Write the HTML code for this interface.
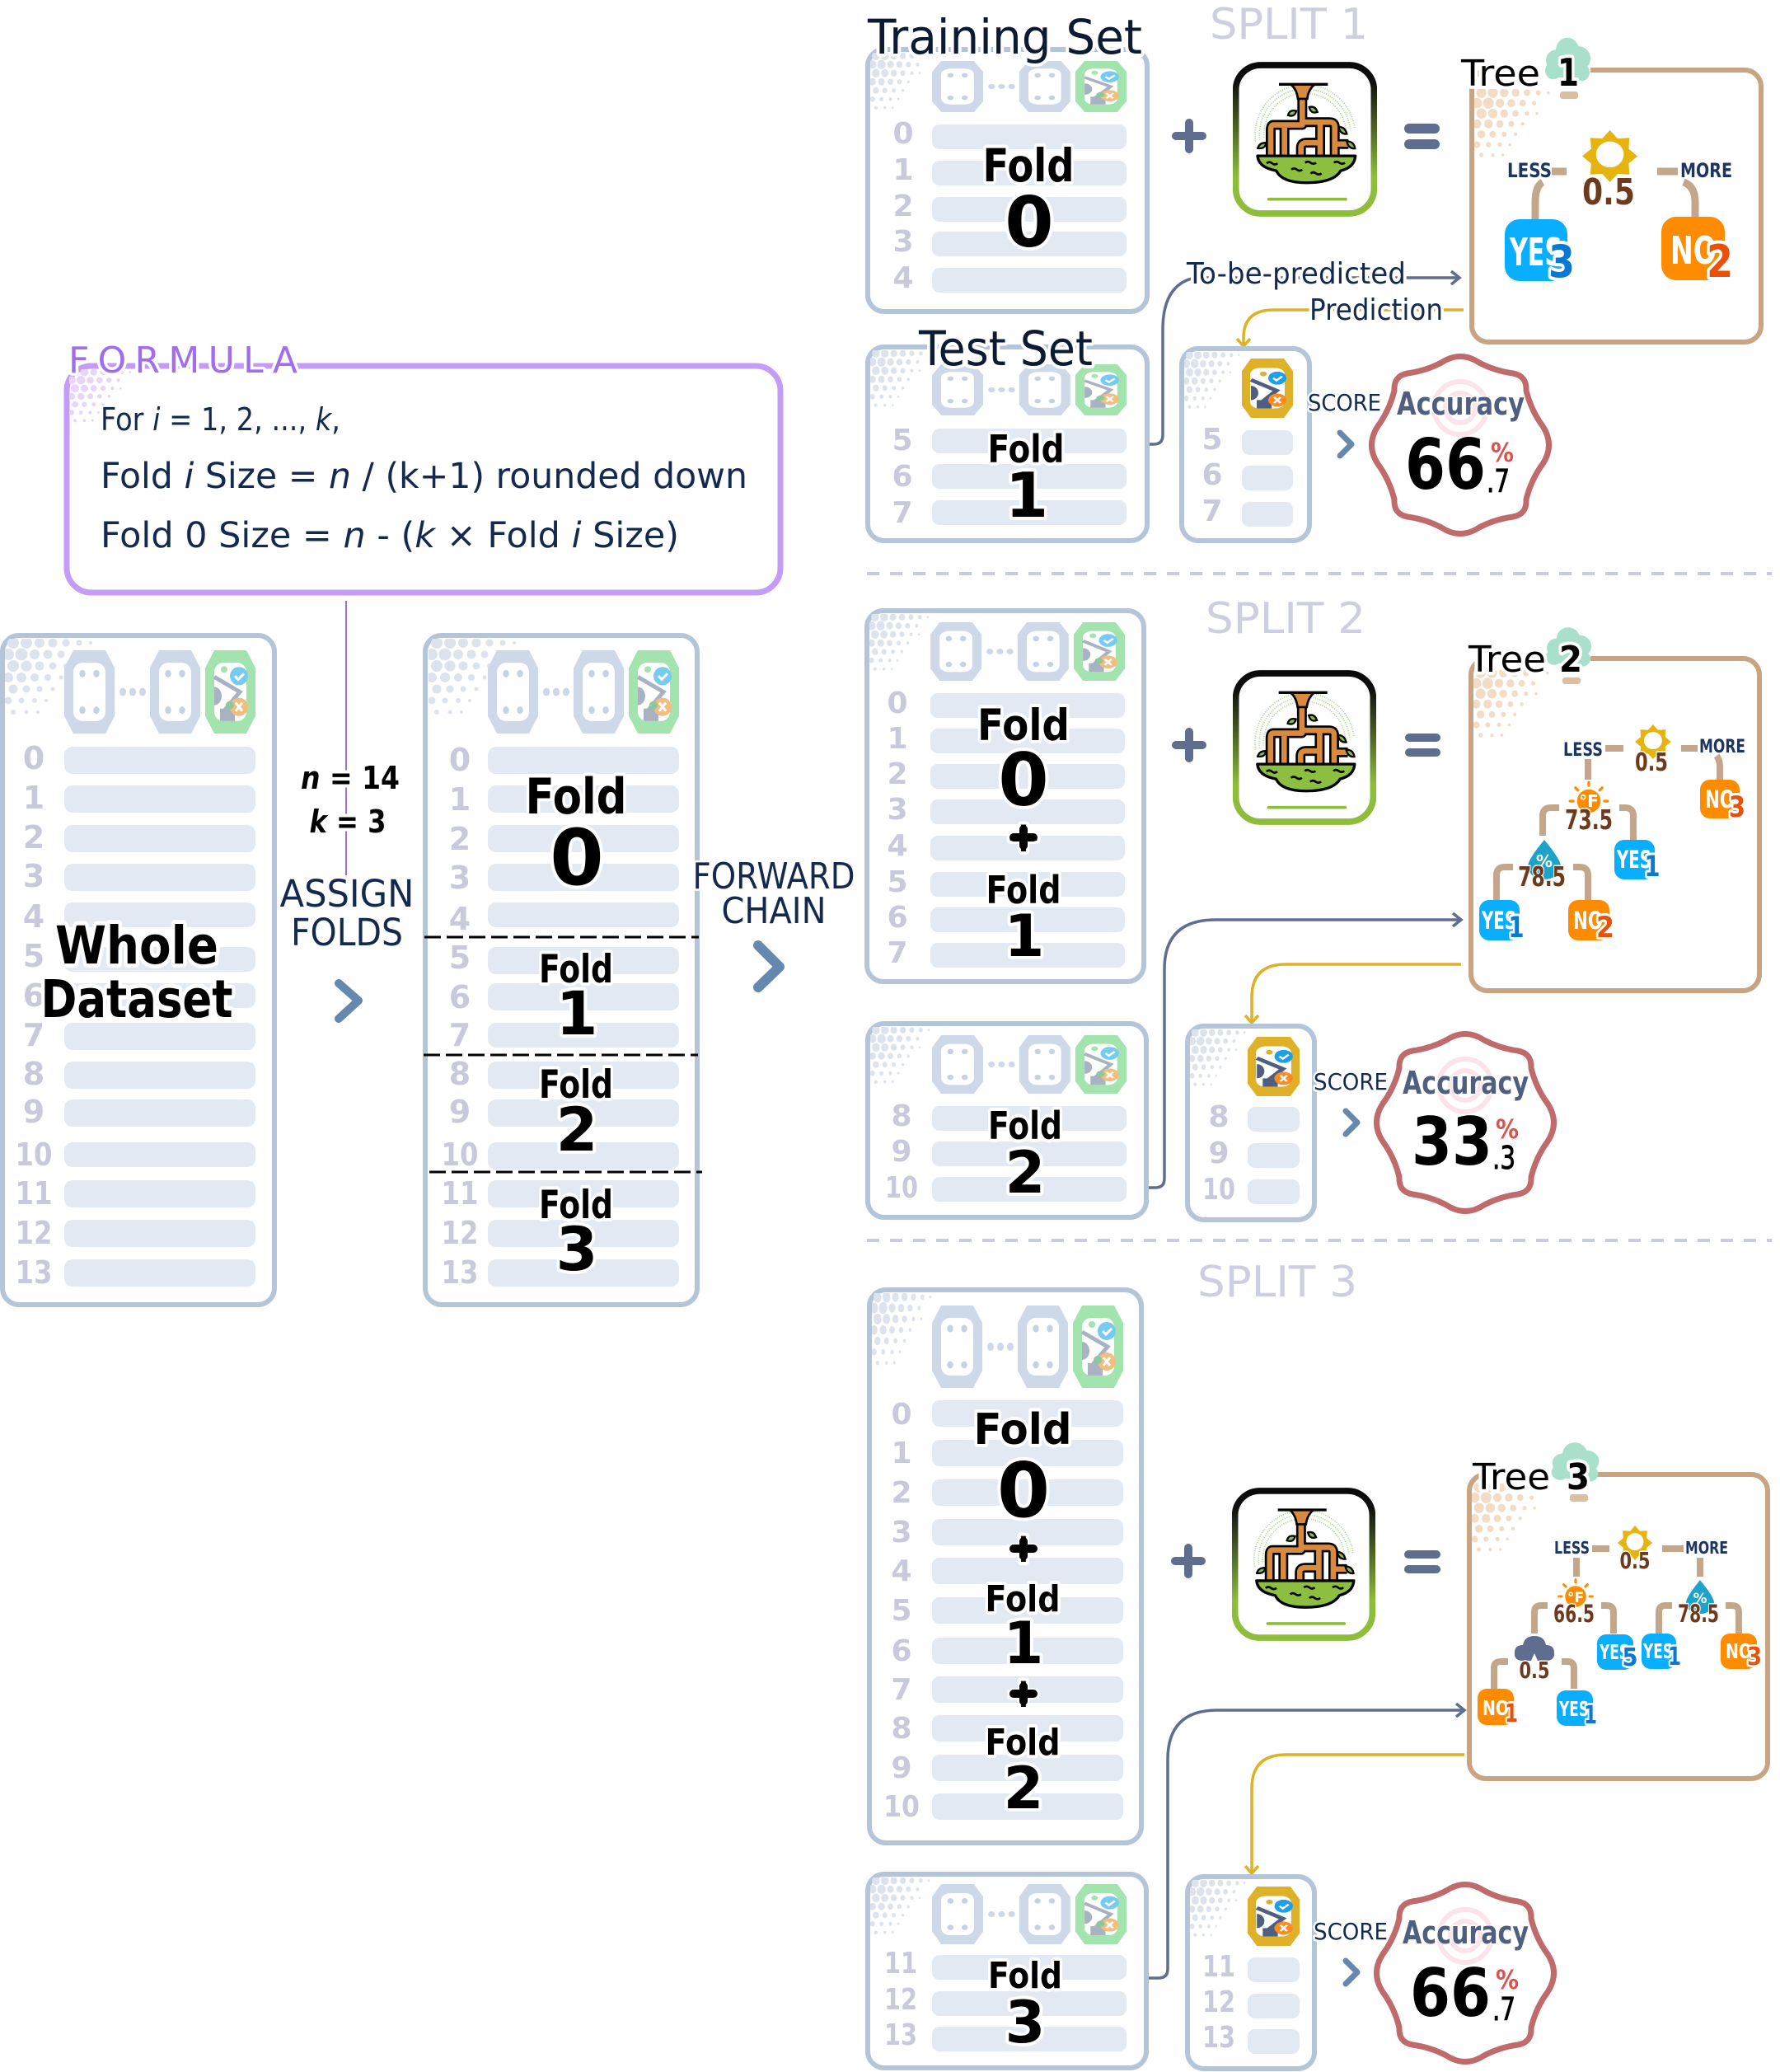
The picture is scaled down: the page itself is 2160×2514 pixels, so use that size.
<!DOCTYPE html>
<html><head><meta charset="utf-8"><style>
html,body{margin:0;padding:0;background:#fff}
svg{display:block}
text{font-family:"DejaVu Sans","Liberation Sans",sans-serif}
.p{fill:#fff;stroke:#b5c5d9;stroke-width:6}
.b{fill:#e3e9f2}
.n{font-size:36px;font-weight:700;fill:#c8cadc;text-anchor:middle}
.a .n{font-size:38px}
.h{paint-order:stroke;stroke:#fff;stroke-width:8px;stroke-linejoin:round}
.f{font-weight:700;fill:#000;text-anchor:middle}
.t{fill:#14294f}
.c{fill:none;stroke:#c4a78a;stroke-linecap:butt;stroke-linejoin:round}
.v{font-weight:700;fill:#6d3a1e;text-anchor:middle}
.l{font-weight:700;fill:#1c3561}
.w{font-weight:700;fill:#fff}
.sp{fill:#cdcfe0;font-size:52px}
</style></head><body>
<svg xmlns="http://www.w3.org/2000/svg" width="2160" height="2514" viewBox="0 0 2160 2514">
<defs>
<linearGradient id="mg" x1="0" y1="0" x2="0" y2="1"><stop offset="0" stop-color="#0a0a0a"/><stop offset=".12" stop-color="#111"/><stop offset=".75" stop-color="#8ebd3c"/><stop offset="1" stop-color="#8ebd3c"/></linearGradient>
<symbol id="dots" viewBox="0 0 110 100" preserveAspectRatio="none">
<g fill="currentColor">
<circle cx="10" cy="5" r="7"/><circle cx="26" cy="5" r="7"/><circle cx="42" cy="5" r="6"/><circle cx="58" cy="5" r="5.5"/><circle cx="74" cy="5" r="4.5"/><circle cx="90" cy="5" r="3.5"/><circle cx="104" cy="5" r="2"/>
<circle cx="4" cy="19" r="7"/><circle cx="20" cy="19" r="7.5"/><circle cx="36" cy="19" r="6"/><circle cx="52" cy="19" r="5.5"/><circle cx="68" cy="19" r="4.5"/><circle cx="84" cy="19" r="3"/>
<circle cx="10" cy="33" r="7"/><circle cx="26" cy="33" r="6.5"/><circle cx="42" cy="33" r="5.5"/><circle cx="58" cy="33" r="4.5"/><circle cx="74" cy="33" r="3"/><circle cx="88" cy="33" r="2"/>
<circle cx="4" cy="47" r="6"/><circle cx="20" cy="47" r="6"/><circle cx="36" cy="47" r="5"/><circle cx="52" cy="47" r="4"/><circle cx="68" cy="47" r="2.5"/>
<circle cx="10" cy="61" r="5.5"/><circle cx="26" cy="61" r="4.5"/><circle cx="42" cy="61" r="3.5"/><circle cx="58" cy="61" r="2.5"/>
<circle cx="4" cy="75" r="4.5"/><circle cx="20" cy="75" r="3.5"/><circle cx="36" cy="75" r="3"/><circle cx="50" cy="75" r="2"/>
<circle cx="10" cy="89" r="3"/><circle cx="26" cy="89" r="2.5"/><circle cx="40" cy="89" r="2"/>
</g></symbol>
<g id="oc"><polygon points="11,0 50,0 61,21 61,79 50,100 11,100 0,79 0,21" fill="#cdd9e9"/><rect x="11" y="15" width="39" height="70" rx="11" fill="#fff"/><g fill="#c5d2e2"><ellipse cx="22" cy="28" rx="3.7" ry="4.5"/><ellipse cx="39" cy="28" rx="3.7" ry="4.5"/><ellipse cx="22" cy="72" rx="3.7" ry="4.5"/><ellipse cx="39" cy="72" rx="3.7" ry="4.5"/></g></g>
<symbol id="hdr" viewBox="0 0 232 100" preserveAspectRatio="none">
<use href="#oc"/>
<use href="#oc" x="104"/>
<g fill="#cdd9e9"><ellipse cx="71" cy="50" rx="4" ry="5"/><ellipse cx="83" cy="50" rx="4" ry="5"/><ellipse cx="95" cy="50" rx="4" ry="5"/></g>
<g transform="translate(171,0)"><polygon points="11,0 50,0 61,21 61,79 50,100 11,100 0,79 0,21" fill="#a3e4ae"/><rect x="11" y="15" width="39" height="70" rx="11" fill="#fff"/>
<polyline points="11,32 42,50 22,74" fill="none" stroke="#a8b2c2" stroke-width="5"/><path d="M11 44a9 11 0 0 1 0 22z" fill="#a8b2c2"/><rect x="18" y="70" width="18" height="15" fill="#a8b2c2"/><circle cx="41" cy="31" r="11" fill="#78cbf0"/><path d="M36 31l4 4 7-7" fill="none" stroke="#fff" stroke-width="3"/><circle cx="41" cy="68" r="11" fill="#f4bd80"/><path d="M37 63l8 10M45 63l-8 10" fill="none" stroke="#fff" stroke-width="3"/><circle cx="23" cy="23" r="4" fill="#a3e4ae"/><circle cx="30" cy="66" r="5" fill="#8fc79c"/></g>
</symbol>
<symbol id="pred" viewBox="0 0 62 100" preserveAspectRatio="none">
<polygon points="11,0 51,0 62,21 62,79 51,100 11,100 0,79 0,21" fill="#dfb128"/><rect x="10" y="16" width="42" height="68" rx="11" fill="#fff"/>
<polyline points="11,36 42,54 22,76" fill="none" stroke="#4f5f80" stroke-width="6"/><path d="M11 46a9 12 0 0 1 0 24z" fill="#4f5f80"/><rect x="18" y="70" width="18" height="14" fill="#4f5f80"/><circle cx="43" cy="33" r="11" fill="#1da0e8"/><path d="M38 33l4 4 7-7" fill="none" stroke="#fff" stroke-width="3"/><circle cx="43" cy="70" r="11" fill="#ff8a1f"/><path d="M39 65l8 10M47 65l-8 10" fill="none" stroke="#fff" stroke-width="3"/><circle cx="26" cy="26" r="4" fill="#dfb128"/>
</symbol>
<symbol id="model" viewBox="47 45 525 565" preserveAspectRatio="none">
<rect x="58" y="57" width="503" height="541" rx="90" fill="#fff" stroke="url(#mg)" stroke-width="23"/>
<path d="M178 546H458" stroke="#8ebd3c" stroke-width="11" stroke-linecap="round"/>
<g fill="none" stroke="#a8d57e" stroke-width="5" stroke-dasharray="3 5"><path d="M130 335A180 180 0 0 1 490 285"/><path d="M145 330A165 165 0 0 1 475 290"/><path d="M160 320A150 150 0 0 1 460 300"/></g>
<g fill="none" stroke="#000" stroke-width="36" stroke-linejoin="round"><path d="M300 140V275H195Q185 275 185 295V385"/><path d="M235 285V385"/><path d="M305 265H400Q418 265 418 282V385"/><path d="M365 265V385"/><path d="M295 385V358Q295 340 315 340H360"/><path d="M420 345H468"/></g>
<g fill="none" stroke="#d88a3e" stroke-width="20" stroke-linejoin="round"><path d="M300 140V275H195Q185 275 185 295V385"/><path d="M235 285V385"/><path d="M305 265H400Q418 265 418 282V385"/><path d="M365 265V385"/><path d="M295 385V358Q295 340 315 340H360"/><path d="M420 345H468"/></g>
<path d="M258 127H346Q322 145 318 180H284Q280 145 258 127Z" fill="#d88a3e" stroke="#000" stroke-width="8"/>
<path d="M215 127H393" stroke="#000" stroke-width="10"/>
<path d="M137 388H493Q490 430 440 442Q415 486 315 486Q225 486 205 442Q140 430 137 388Z" fill="#8cbf3f" stroke="#000" stroke-width="10" stroke-linejoin="round"/>
<g fill="none" stroke="#000" stroke-width="8"><path d="M170 415q10-8 20 0t20 0"/><path d="M310 413q10-8 20 0t20 0"/><path d="M415 413q10-8 20 0t20 0"/><path d="M260 438q10-8 20 0t20 0"/><path d="M330 452q10-8 20 0t20 0"/></g>
<g fill="#8cbf3f" stroke="#000" stroke-width="7"><path d="M248 240q5-22 30-16q-5 24-30 16z"/><path d="M325 210q22-6 30 18q-24 8-30-18z"/><path d="M138 360q5-20 30-20q-2 24-30 20z"/><path d="M432 282q24 0 30 26q-24 2-30-26z"/><path d="M462 335q26 0 30 26q-24 2-30-26z"/></g>
</symbol>
<path id="badge" d="M-23 -100Q0 -115 23 -100Q42 -90 64 -87Q81 -84 80 -66Q86 -42 100 -23Q115 0 100 23Q86 42 80 66Q81 84 64 87Q42 90 23 100Q0 115 -23 100Q-42 90 -64 87Q-81 84 -80 66Q-86 42 -100 23Q-115 0 -100 -23Q-86 -42 -80 -66Q-81 -84 -64 -87Q-42 -90 -23 -100Z" fill="#fff" stroke="#bf6a6b" stroke-width="7" stroke-linejoin="round"/>
<g id="rings" fill="none" stroke="#fbe3e9" stroke-width="6"><circle r="32"/><circle r="18"/></g>
<path id="sun" d="M30 0L38.4 9.7 51.2 8.8 50.3 21.6 60 30 50.3 38.4 51.2 51.2 38.4 50.3 30 60 21.6 50.3 8.8 51.2 9.7 38.4 0 30 9.7 21.6 8.8 8.8 21.6 9.7Z" fill="#e6b40e"/>
<g id="cloud" fill="#a9e0cc"><circle cx="0" cy="-10" r="14"/><circle cx="-14" cy="2" r="12"/><circle cx="14" cy="0" r="14"/><circle cx="-17" cy="14" r="10"/><circle cx="17" cy="16" r="10"/><rect x="-16" y="4" width="32" height="18"/></g>
<g id="temp"><g stroke="#ff8c00" stroke-width="3.5" stroke-linecap="round"><path d="M0 -24V-20M-17 -17L-14 -14M17 -17L14 -14M-24 0H-20M24 0H20"/></g><circle r="15" fill="#ff8c00"/></g>
<path id="drop" d="M0 -22Q20 2 20 10A20 16 0 0 1 -20 10Q-20 2 0 -22Z" fill="#1da3c9"/>
<path id="storm" d="M-14 15Q-25 15 -24 5Q-24 -4 -14 -4Q-12 -15 0 -15Q12 -15 14 -4Q24 -4 24 5Q25 15 14 15H4L0 6 -4 15Z" fill="#5f6d8e"/>
</defs>

<!-- FORMULA -->
<path d="M420 729V1062" stroke="#9c6fe0" stroke-width="2" fill="none"/>
<rect x="81" y="444" width="866" height="275" rx="30" fill="#fff" stroke="#c49cf8" stroke-width="7"/>
<use href="#dots" x="84" y="448" width="78" height="70" style="color:#e8d5fb"/>
<text x="83" y="452" class="h" font-size="44" fill="#a06cf0" textLength="278" lengthAdjust="spacing" style="stroke-width:7px">FORMULA</text>
<text x="122" y="522" class="t" font-size="38" textLength="291" lengthAdjust="spacingAndGlyphs">For <tspan font-style="italic">i</tspan> = 1, 2, ..., <tspan font-style="italic">k</tspan>,</text>
<text x="122" y="592" class="t" font-size="43" textLength="785" lengthAdjust="spacingAndGlyphs">Fold <tspan font-style="italic">i</tspan> Size = <tspan font-style="italic">n</tspan> / (k+1) rounded down</text>
<text x="122" y="664" class="t" font-size="43" textLength="702" lengthAdjust="spacingAndGlyphs">Fold 0 Size = <tspan font-style="italic">n</tspan> - (<tspan font-style="italic">k</tspan> × Fold <tspan font-style="italic">i</tspan> Size)</text>

<text x="425" y="957" class="f h" font-size="38" textLength="120" lengthAdjust="spacingAndGlyphs"><tspan font-style="italic">n</tspan> = 14</text>
<text x="422" y="1010" class="f h" font-size="38" textLength="93" lengthAdjust="spacingAndGlyphs"><tspan font-style="italic">k</tspan> = 3</text>
<text x="421" y="1100" class="t h" text-anchor="middle" font-size="45" textLength="163" lengthAdjust="spacingAndGlyphs" style="stroke-width:5px">ASSIGN</text>
<text x="421" y="1147" class="t" text-anchor="middle" font-size="45" textLength="136" lengthAdjust="spacingAndGlyphs">FOLDS</text>
<path d="M411 1193L435 1214 411 1236" fill="none" stroke="#6488ae" stroke-width="10" stroke-linecap="round" stroke-linejoin="round"/>

<!-- Panel A -->
<rect class="p" x="3" y="771" width="330" height="812" rx="20"/>
<use href="#dots" x="6" y="775" width="110" height="100" style="color:#dde3ec"/>
<use href="#hdr" x="78" y="789" width="232" height="101"/>
<rect class="b" x="78" y="906" width="232" height="33" rx="10"/><rect class="b" x="78" y="953" width="232" height="33" rx="10"/><rect class="b" x="78" y="1001" width="232" height="33" rx="10"/><rect class="b" x="78" y="1048" width="232" height="33" rx="10"/><rect class="b" x="78" y="1095" width="232" height="30" rx="10"/><rect class="b" x="78" y="1149" width="232" height="30" rx="10"/><rect class="b" x="78" y="1193" width="232" height="30" rx="10"/><rect class="b" x="78" y="1241" width="232" height="33" rx="10"/><rect class="b" x="78" y="1288" width="232" height="33" rx="10"/><rect class="b" x="78" y="1334" width="232" height="33" rx="10"/><rect class="b" x="78" y="1386" width="232" height="30" rx="10"/><rect class="b" x="78" y="1432" width="232" height="33" rx="10"/><rect class="b" x="78" y="1480" width="232" height="33" rx="10"/><rect class="b" x="78" y="1528" width="232" height="33" rx="10"/>
<g class="a"><text class="n" x="41" y="933">0</text><text class="n" x="41" y="981">1</text><text class="n" x="41" y="1029">2</text><text class="n" x="41" y="1076">3</text><text class="n" x="41" y="1125">4</text><text class="n" x="41" y="1173">5</text><text class="n" x="41" y="1221">6</text><text class="n" x="41" y="1269">7</text><text class="n" x="41" y="1316">8</text><text class="n" x="41" y="1362">9</text><text class="n" x="41" y="1414" textLength="45" lengthAdjust="spacingAndGlyphs">10</text><text class="n" x="41" y="1461" textLength="45" lengthAdjust="spacingAndGlyphs">11</text><text class="n" x="41" y="1509" textLength="45" lengthAdjust="spacingAndGlyphs">12</text><text class="n" x="41" y="1557" textLength="45" lengthAdjust="spacingAndGlyphs">13</text></g>
<text class="f h" x="166" y="1169" font-size="63" textLength="198" lengthAdjust="spacingAndGlyphs" style="stroke-width:10px">Whole</text>
<text class="f h" x="166" y="1234" font-size="63" textLength="233" lengthAdjust="spacingAndGlyphs" style="stroke-width:10px">Dataset</text>

<!-- Panel B -->
<rect class="p" x="516" y="771" width="330" height="812" rx="20"/>
<use href="#dots" x="520" y="775" width="110" height="100" style="color:#dde3ec"/>
<use href="#hdr" x="592" y="789" width="232" height="101"/>
<rect class="b" x="592" y="906" width="232" height="33" rx="10"/><rect class="b" x="592" y="953" width="232" height="33" rx="10"/><rect class="b" x="592" y="1001" width="232" height="33" rx="10"/><rect class="b" x="592" y="1048" width="232" height="33" rx="10"/><rect class="b" x="592" y="1095" width="232" height="30" rx="10"/><rect class="b" x="592" y="1149" width="232" height="33" rx="10"/><rect class="b" x="592" y="1193" width="232" height="33" rx="10"/><rect class="b" x="592" y="1241" width="232" height="30" rx="10"/><rect class="b" x="592" y="1288" width="232" height="33" rx="10"/><rect class="b" x="592" y="1334" width="232" height="33" rx="10"/><rect class="b" x="592" y="1386" width="232" height="33" rx="10"/><rect class="b" x="592" y="1432" width="232" height="33" rx="10"/><rect class="b" x="592" y="1480" width="232" height="33" rx="10"/><rect class="b" x="592" y="1528" width="232" height="33" rx="10"/>
<g class="a"><text class="n" x="558" y="935">0</text><text class="n" x="558" y="983">1</text><text class="n" x="558" y="1031">2</text><text class="n" x="558" y="1078">3</text><text class="n" x="558" y="1128">4</text><text class="n" x="558" y="1175">5</text><text class="n" x="558" y="1223">6</text><text class="n" x="558" y="1269">7</text><text class="n" x="558" y="1316">8</text><text class="n" x="558" y="1362">9</text><text class="n" x="558" y="1414" textLength="45" lengthAdjust="spacingAndGlyphs">10</text><text class="n" x="558" y="1461" textLength="45" lengthAdjust="spacingAndGlyphs">11</text><text class="n" x="558" y="1509" textLength="45" lengthAdjust="spacingAndGlyphs">12</text><text class="n" x="558" y="1557" textLength="45" lengthAdjust="spacingAndGlyphs">13</text></g>
<g stroke="#000" stroke-width="3" stroke-dasharray="20 7" fill="none"><path d="M515 1137H848"/><path d="M514 1280H847"/><path d="M521 1422H852"/></g>
<text class="f h" x="699" y="987" font-size="60" textLength="123" lengthAdjust="spacingAndGlyphs">Fold</text>
<text class="f h" x="700" y="1073" font-size="94">0</text>
<text class="f h" x="699" y="1192" font-size="47" textLength="90" lengthAdjust="spacingAndGlyphs">Fold</text>
<text class="f h" x="700" y="1255" font-size="73">1</text>
<text class="f h" x="699" y="1332" font-size="47" textLength="90" lengthAdjust="spacingAndGlyphs">Fold</text>
<text class="f h" x="700" y="1396" font-size="73">2</text>
<text class="f h" x="699" y="1478" font-size="47" textLength="90" lengthAdjust="spacingAndGlyphs">Fold</text>
<text class="f h" x="700" y="1541" font-size="73">3</text>

<text x="939" y="1078" class="t h" text-anchor="middle" font-size="44" textLength="197" lengthAdjust="spacingAndGlyphs" style="stroke-width:5px">FORWARD</text>
<text x="939" y="1120" class="t" text-anchor="middle" font-size="44" textLength="127" lengthAdjust="spacingAndGlyphs">CHAIN</text>
<path d="M920 1147L946 1173 920 1198" fill="none" stroke="#6488ae" stroke-width="12" stroke-linecap="round" stroke-linejoin="round"/>

<!-- dividers -->
<g stroke="#c9ccdc" stroke-width="4" stroke-dasharray="15 13" fill="none"><path d="M1052 696H2150"/><path d="M1052 1505H2150"/></g>

<!-- SPLIT 1 -->
<text class="sp" x="1468" y="47" textLength="192" lengthAdjust="spacingAndGlyphs">SPLIT 1</text>
<rect class="p" x="1053" y="60" width="339" height="318" rx="20"/>
<use href="#dots" x="1056" y="64" width="75" height="75" style="color:#dde3ec"/>
<use href="#hdr" x="1131" y="74" width="236" height="62"/>
<rect class="b" x="1131" y="151" width="236" height="30" rx="9"/><rect class="b" x="1131" y="195" width="236" height="30" rx="9"/><rect class="b" x="1131" y="239" width="236" height="30" rx="9"/><rect class="b" x="1131" y="281" width="236" height="30" rx="9"/><rect class="b" x="1131" y="325" width="236" height="30" rx="9"/>
<text class="n" x="1096" y="174">0</text><text class="n" x="1096" y="218">1</text><text class="n" x="1096" y="262">2</text><text class="n" x="1096" y="305">3</text><text class="n" x="1096" y="349">4</text>
<text class="h" x="1053" y="65" font-size="58" fill="#0c1a33" textLength="333" lengthAdjust="spacingAndGlyphs">Training Set</text>
<text class="f h" x="1248" y="220" font-size="55" textLength="111" lengthAdjust="spacingAndGlyphs">Fold</text>
<text class="f h" x="1249" y="299" font-size="85">0</text>

<path d="M1392 539H1400Q1411 539 1411 528V400Q1411 345 1450 337H1771M1761 329L1771 337 1761 345" fill="none" stroke="#5f6d8e" stroke-width="3.5"/>
<path d="M1776 376H1545Q1509 376 1509 410V419M1501 411L1509 420 1517 411" fill="none" stroke="#dfb128" stroke-width="3.5"/>

<rect class="p" x="1053" y="421" width="339" height="235" rx="20"/>
<use href="#dots" x="1056" y="425" width="75" height="75" style="color:#dde3ec"/>
<use href="#hdr" x="1131" y="442" width="236" height="62"/>
<rect class="b" x="1131" y="520" width="236" height="30" rx="9"/><rect class="b" x="1131" y="563" width="236" height="30" rx="9"/><rect class="b" x="1131" y="607" width="236" height="30" rx="9"/>
<text class="n" x="1095" y="546">5</text><text class="n" x="1095" y="590">6</text><text class="n" x="1095" y="634">7</text>
<text class="h" x="1115" y="443" font-size="58" fill="#0c1a33" textLength="211" lengthAdjust="spacingAndGlyphs">Test Set</text>
<text class="f h" x="1245" y="561" font-size="46" textLength="93" lengthAdjust="spacingAndGlyphs">Fold</text>
<text class="f h" x="1246" y="627" font-size="75">1</text>

<path d="M1427 165H1459M1443 149V181" stroke="#5f6d8e" stroke-width="10" stroke-linecap="round" fill="none"/>
<use href="#model" x="1496" y="75" width="175" height="188"/>
<path d="M1710 156H1741M1710 175H1741" stroke="#5f6d8e" stroke-width="12" stroke-linecap="round" fill="none"/>
<text class="h" x="1440" y="344" font-size="36" fill="#14294f" textLength="266" lengthAdjust="spacingAndGlyphs">To-be-predicted</text>
<text class="h" x="1589" y="388" font-size="36" fill="#14294f" textLength="162" lengthAdjust="spacingAndGlyphs">Prediction</text>

<rect x="1786" y="85" width="351" height="330" rx="20" fill="#fff" stroke="#c8a482" stroke-width="6"/>
<rect x="1800" y="78" width="130" height="14" fill="#fff"/>
<use href="#dots" x="1789" y="108" width="95" height="90" style="color:#f2dcc6"/>
<rect x="1893" y="111" width="22" height="9" rx="3" fill="#dcbfa3"/>
<use href="#cloud" transform="translate(1902,71) scale(1,1.05)"/>
<text class="h" x="1773" y="104" font-size="44" fill="#000" textLength="96" lengthAdjust="spacingAndGlyphs">Tree</text>
<text class="f h" x="1903" y="104" font-size="46" textLength="26" lengthAdjust="spacingAndGlyphs">1</text>
<g transform="translate(1920,158) scale(1.12,1.05)"><use href="#sun"/><circle cx="30" cy="28" r="15" fill="#fff"/></g>
<text class="v h" x="1952" y="248" font-size="44" textLength="64" lengthAdjust="spacingAndGlyphs" style="stroke-width:3px">0.5</text>
<path class="c" stroke-width="9" d="M1883 208H1901M2011 208H2036M1872 221Q1863 226 1863 245V266M2043 221Q2057 226 2057 245V264"/>
<text class="l" x="1829" y="215" font-size="24" textLength="54" lengthAdjust="spacingAndGlyphs">LESS</text>
<text class="l" x="2039" y="215" font-size="24" textLength="63" lengthAdjust="spacingAndGlyphs">MORE</text>
<rect x="1826" y="266" width="76" height="75" rx="18" fill="#0aaeff"/>
<text class="w" x="1832" y="322" font-size="46" textLength="64" lengthAdjust="spacingAndGlyphs">YES</text>
<text class="f h" x="1895" y="336" font-size="54" style="fill:#0c78d2" textLength="32" lengthAdjust="spacingAndGlyphs">3</text>
<rect x="2016" y="263" width="77" height="77" rx="18" fill="#ff8c00"/>
<text class="w" x="2027" y="320" font-size="46" textLength="56" lengthAdjust="spacingAndGlyphs">NO</text>
<text class="f h" x="2087" y="336" font-size="54" style="fill:#e8500c" textLength="32" lengthAdjust="spacingAndGlyphs">2</text>

<rect class="p" x="1434" y="423" width="155" height="233" rx="20"/>
<use href="#dots" x="1437" y="427" width="70" height="75" style="color:#dde3ec"/>
<use href="#pred" x="1507" y="435" width="62" height="72"/>
<rect class="b" x="1507" y="522" width="62" height="30" rx="9"/><rect class="b" x="1507" y="565" width="62" height="30" rx="9"/><rect class="b" x="1507" y="609" width="62" height="30" rx="9"/>
<text class="n" x="1471" y="545">5</text><text class="n" x="1471" y="588">6</text><text class="n" x="1471" y="632">7</text>
<text class="h" x="1587" y="498" font-size="28" fill="#14294f" textLength="89" lengthAdjust="spacingAndGlyphs" style="stroke-width:5px">SCORE</text>
<path d="M1626 525L1640 539 1626 553" fill="none" stroke="#6488ae" stroke-width="7" stroke-linecap="round" stroke-linejoin="round"/>
<g transform="translate(1772,540)"><use href="#badge"/><use href="#rings" y="-45"/></g>
<text x="1695" y="503" font-size="38" font-weight="700" fill="#4f5f80" class="h" textLength="155" lengthAdjust="spacingAndGlyphs" style="stroke-width:3px">Accuracy</text>
<text x="1705" y="593" font-size="85" font-weight="700" fill="#000" textLength="98" lengthAdjust="spacingAndGlyphs">66</text>
<text x="1823" y="560" font-size="32" font-weight="700" fill="#d9534f" text-anchor="middle" textLength="28" lengthAdjust="spacingAndGlyphs">%</text>
<text x="1804" y="597" font-size="38" fill="#000" stroke="#000" stroke-width="1" textLength="28" lengthAdjust="spacingAndGlyphs">.7</text>

<!-- SPLIT 2 -->
<text class="sp" x="1463" y="768" textLength="194" lengthAdjust="spacingAndGlyphs">SPLIT 2</text>
<rect class="p" x="1052" y="741" width="336" height="450" rx="20"/>
<use href="#dots" x="1055" y="745" width="75" height="75" style="color:#dde3ec"/>
<use href="#hdr" x="1129" y="755" width="236" height="71"/>
<rect class="b" x="1129" y="841" width="236" height="30" rx="9"/><rect class="b" x="1129" y="884" width="236" height="30" rx="9"/><rect class="b" x="1129" y="927" width="236" height="30" rx="9"/><rect class="b" x="1129" y="970" width="236" height="30" rx="9"/><rect class="b" x="1129" y="1014" width="236" height="30" rx="9"/><rect class="b" x="1129" y="1058" width="236" height="30" rx="9"/><rect class="b" x="1129" y="1101" width="236" height="30" rx="9"/><rect class="b" x="1129" y="1144" width="236" height="30" rx="9"/>
<text class="n" x="1089" y="865">0</text><text class="n" x="1089" y="908">1</text><text class="n" x="1089" y="951">2</text><text class="n" x="1089" y="994">3</text><text class="n" x="1089" y="1038">4</text><text class="n" x="1089" y="1082">5</text><text class="n" x="1089" y="1125">6</text><text class="n" x="1089" y="1168">7</text>
<text class="f h" x="1242" y="898" font-size="53" textLength="112" lengthAdjust="spacingAndGlyphs">Fold</text>
<text class="f h" x="1242" y="977" font-size="88">0</text>
<text class="f h" x="1242" y="1033" font-size="52">+</text>
<path d="M1230 1016H1254M1242 1006V1026" stroke="#000" stroke-width="10" stroke-linecap="round" fill="none"/>
<text class="f h" x="1242" y="1096" font-size="46" textLength="91" lengthAdjust="spacingAndGlyphs">Fold</text>
<text class="f h" x="1243" y="1160" font-size="70">1</text>

<path d="M1392 1441H1402Q1413 1441 1413 1430V1176Q1413 1116 1475 1116H1773M1763 1108L1773 1116 1763 1124" fill="none" stroke="#5f6d8e" stroke-width="3.5"/>
<path d="M1773 1170H1560Q1519 1170 1519 1210V1240M1511 1232L1519 1241 1527 1232" fill="none" stroke="#dfb128" stroke-width="3.5"/>

<rect class="p" x="1053" y="1242" width="338" height="235" rx="20"/>
<use href="#dots" x="1056" y="1246" width="75" height="75" style="color:#dde3ec"/>
<use href="#hdr" x="1131" y="1256" width="236" height="71"/>
<rect class="b" x="1131" y="1342" width="236" height="30" rx="9"/><rect class="b" x="1131" y="1385" width="236" height="30" rx="9"/><rect class="b" x="1131" y="1428" width="236" height="30" rx="9"/>
<text class="n" x="1094" y="1366">8</text><text class="n" x="1094" y="1409">9</text><text class="n" x="1094" y="1453" textLength="40" lengthAdjust="spacingAndGlyphs">10</text>
<text class="f h" x="1244" y="1382" font-size="46" textLength="90" lengthAdjust="spacingAndGlyphs">Fold</text>
<text class="f h" x="1244" y="1447" font-size="70">2</text>

<path d="M1427 904H1459M1443 888V920" stroke="#5f6d8e" stroke-width="10" stroke-linecap="round" fill="none"/>
<use href="#model" x="1496" y="813" width="174" height="188"/>
<path d="M1710 895H1743M1710 913H1743" stroke="#5f6d8e" stroke-width="10" stroke-linecap="round" fill="none"/>

<rect x="1785" y="799" width="350" height="403" rx="20" fill="#fff" stroke="#c8a482" stroke-width="6"/>
<rect x="1800" y="792" width="130" height="14" fill="#fff"/>
<use href="#dots" x="1788" y="812" width="95" height="90" style="color:#f2dcc6"/>
<rect x="1896" y="822" width="22" height="8" rx="3" fill="#dcbfa3"/>
<use href="#cloud" transform="translate(1903,784) scale(1,.95)"/>
<text class="h" x="1782" y="815" font-size="44" fill="#000" textLength="94" lengthAdjust="spacingAndGlyphs">Tree</text>
<text class="f h" x="1906" y="815" font-size="44" textLength="28" lengthAdjust="spacingAndGlyphs">2</text>
<g transform="translate(1984,879) scale(.73,.7)"><use href="#sun"/><circle cx="30" cy="28" r="15" fill="#fff"/></g>
<text class="v h" x="2004" y="935" font-size="30" textLength="40" lengthAdjust="spacingAndGlyphs" style="stroke-width:3px">0.5</text>
<path class="c" stroke-width="8" d="M1948 908H1970M2040 908H2060M1927 921V946M2083 917Q2087 922 2087 930V946"/>
<path class="c" stroke-width="8" d="M1892 980H1882Q1872 980 1872 990V1014M1965 980H1972Q1982 980 1982 990V1019M1836 1052H1826Q1816 1052 1816 1062V1092M1909 1052H1917Q1927 1052 1927 1062V1092"/>
<text class="l" x="1897" y="917" font-size="22" textLength="48" lengthAdjust="spacingAndGlyphs">LESS</text>
<text class="l" x="2062" y="913" font-size="22" textLength="56" lengthAdjust="spacingAndGlyphs">MORE</text>
<g transform="translate(1928,972) scale(.95)"><use href="#temp"/></g>
<text x="1928" y="979" font-size="20" font-weight="700" fill="#fff" text-anchor="middle">°F</text>
<text class="v h" x="1928" y="1006" font-size="33" textLength="58" lengthAdjust="spacingAndGlyphs" style="stroke-width:3px">73.5</text>
<g transform="translate(1874,1041)"><use href="#drop"/></g>
<text x="1874" y="1052" font-size="20" font-weight="700" fill="#fff" text-anchor="middle">%</text>
<text class="v h" x="1871" y="1075" font-size="33" textLength="58" lengthAdjust="spacingAndGlyphs" style="stroke-width:3px">78.5</text>
<rect x="2063" y="946" width="48" height="47" rx="12" fill="#ff8c00"/>
<text class="w" x="2069" y="980" font-size="29" textLength="36" lengthAdjust="spacingAndGlyphs">NO</text>
<text class="f h" x="2108" y="991" font-size="35" style="fill:#e8500c;stroke-width:6px" textLength="20" lengthAdjust="spacingAndGlyphs">3</text>
<rect x="1959" y="1019" width="49" height="48" rx="12" fill="#0aaeff"/>
<text class="w" x="1962" y="1053" font-size="29" textLength="42" lengthAdjust="spacingAndGlyphs">YES</text>
<text class="f h" x="2005" y="1063" font-size="35" style="fill:#0c78d2;stroke-width:6px" textLength="19" lengthAdjust="spacingAndGlyphs">1</text>
<rect x="1795" y="1092" width="49" height="49" rx="12" fill="#0aaeff"/>
<text class="w" x="1798" y="1127" font-size="29" textLength="42" lengthAdjust="spacingAndGlyphs">YES</text>
<text class="f h" x="1840" y="1137" font-size="35" style="fill:#0c78d2;stroke-width:6px" textLength="19" lengthAdjust="spacingAndGlyphs">1</text>
<rect x="1903" y="1092" width="50" height="49" rx="12" fill="#ff8c00"/>
<text class="w" x="1909" y="1127" font-size="29" textLength="36" lengthAdjust="spacingAndGlyphs">NO</text>
<text class="f h" x="1948" y="1137" font-size="35" style="fill:#e8500c;stroke-width:6px" textLength="22" lengthAdjust="spacingAndGlyphs">2</text>

<rect class="p" x="1441" y="1245" width="154" height="235" rx="20"/>
<use href="#dots" x="1444" y="1249" width="70" height="75" style="color:#dde3ec"/>
<use href="#pred" x="1514" y="1258" width="63" height="72"/>
<rect class="b" x="1514" y="1343" width="63" height="30" rx="9"/><rect class="b" x="1514" y="1387" width="63" height="30" rx="9"/><rect class="b" x="1514" y="1431" width="63" height="30" rx="9"/>
<text class="n" x="1479" y="1367">8</text><text class="n" x="1479" y="1411">9</text><text class="n" x="1479" y="1455" textLength="40" lengthAdjust="spacingAndGlyphs">10</text>
<text class="h" x="1594" y="1322" font-size="28" fill="#14294f" textLength="90" lengthAdjust="spacingAndGlyphs" style="stroke-width:5px">SCORE</text>
<path d="M1633 1348L1647 1362 1633 1376" fill="none" stroke="#6488ae" stroke-width="7" stroke-linecap="round" stroke-linejoin="round"/>
<g transform="translate(1778,1362)"><use href="#badge"/><use href="#rings" y="-45"/></g>
<text x="1702" y="1327" font-size="38" font-weight="700" fill="#4f5f80" class="h" textLength="153" lengthAdjust="spacingAndGlyphs" style="stroke-width:3px">Accuracy</text>
<text x="1713" y="1413" font-size="80" font-weight="700" fill="#000" textLength="98" lengthAdjust="spacingAndGlyphs">33</text>
<text x="1829" y="1381" font-size="32" font-weight="700" fill="#d9534f" text-anchor="middle" textLength="28" lengthAdjust="spacingAndGlyphs">%</text>
<text x="1811" y="1418" font-size="38" fill="#000" stroke="#000" stroke-width="1" textLength="28" lengthAdjust="spacingAndGlyphs">.3</text>

<!-- SPLIT 3 -->
<text class="sp" x="1453" y="1573" textLength="194" lengthAdjust="spacingAndGlyphs">SPLIT 3</text>
<rect class="p" x="1055" y="1565" width="330" height="671" rx="20"/>
<use href="#dots" x="1058" y="1569" width="75" height="95" style="color:#dde3ec"/>
<use href="#hdr" x="1131" y="1584" width="232" height="100"/>
<rect class="b" x="1131" y="1699" width="232" height="32" rx="9"/><rect class="b" x="1131" y="1747" width="232" height="32" rx="9"/><rect class="b" x="1131" y="1795" width="232" height="32" rx="9"/><rect class="b" x="1131" y="1843" width="232" height="32" rx="9"/><rect class="b" x="1131" y="1890" width="232" height="32" rx="9"/><rect class="b" x="1131" y="1938" width="232" height="32" rx="9"/><rect class="b" x="1131" y="1987" width="232" height="32" rx="9"/><rect class="b" x="1131" y="2034" width="232" height="32" rx="9"/><rect class="b" x="1131" y="2081" width="232" height="32" rx="9"/><rect class="b" x="1131" y="2129" width="232" height="32" rx="9"/><rect class="b" x="1131" y="2176" width="232" height="32" rx="9"/>
<text class="n" x="1094" y="1728">0</text><text class="n" x="1094" y="1775">1</text><text class="n" x="1094" y="1823">2</text><text class="n" x="1094" y="1871">3</text><text class="n" x="1094" y="1918">4</text><text class="n" x="1094" y="1966">5</text><text class="n" x="1094" y="2015">6</text><text class="n" x="1094" y="2062">7</text><text class="n" x="1094" y="2109">8</text><text class="n" x="1094" y="2157">9</text><text class="n" x="1094" y="2204" textLength="44" lengthAdjust="spacingAndGlyphs">10</text>
<text class="f h" x="1241" y="1752" font-size="52" textLength="119" lengthAdjust="spacingAndGlyphs">Fold</text>
<text class="f h" x="1242" y="1840" font-size="92">0</text>
<text class="f h" x="1242" y="1895" font-size="50">+</text>
<path d="M1230 1879H1254M1242 1870V1888" stroke="#000" stroke-width="10" stroke-linecap="round" fill="none"/>
<text class="f h" x="1241" y="1955" font-size="44" textLength="91" lengthAdjust="spacingAndGlyphs">Fold</text>
<text class="f h" x="1242" y="2018" font-size="70">1</text>
<text class="f h" x="1242" y="2071" font-size="50">+</text>
<path d="M1230 2055H1254M1242 2046V2064" stroke="#000" stroke-width="10" stroke-linecap="round" fill="none"/>
<text class="f h" x="1241" y="2129" font-size="44" textLength="91" lengthAdjust="spacingAndGlyphs">Fold</text>
<text class="f h" x="1242" y="2194" font-size="70">2</text>

<path d="M1392 2400H1406Q1417 2400 1417 2389V2135Q1417 2075 1477 2075H1777M1767 2067L1777 2075 1767 2083" fill="none" stroke="#5f6d8e" stroke-width="3.5"/>
<path d="M1777 2129H1560Q1519 2129 1519 2170V2272M1511 2264L1519 2273 1527 2264" fill="none" stroke="#dfb128" stroke-width="3.5"/>

<rect class="p" x="1053" y="2274" width="338" height="235" rx="20"/>
<use href="#dots" x="1056" y="2278" width="75" height="75" style="color:#dde3ec"/>
<use href="#hdr" x="1131" y="2286" width="236" height="73"/>
<rect class="b" x="1131" y="2372" width="236" height="30" rx="9"/><rect class="b" x="1131" y="2416" width="236" height="30" rx="9"/><rect class="b" x="1131" y="2459" width="236" height="30" rx="9"/>
<text class="n" x="1093" y="2394" textLength="40" lengthAdjust="spacingAndGlyphs">11</text><text class="n" x="1093" y="2438" textLength="40" lengthAdjust="spacingAndGlyphs">12</text><text class="n" x="1093" y="2481" textLength="40" lengthAdjust="spacingAndGlyphs">13</text>
<text class="f h" x="1244" y="2412" font-size="44" textLength="90" lengthAdjust="spacingAndGlyphs">Fold</text>
<text class="f h" x="1244" y="2478" font-size="70">3</text>

<path d="M1426 1894H1458M1442 1878V1910" stroke="#5f6d8e" stroke-width="10" stroke-linecap="round" fill="none"/>
<use href="#model" x="1495" y="1805" width="174" height="186"/>
<path d="M1709 1886H1743M1709 1904H1743" stroke="#5f6d8e" stroke-width="10" stroke-linecap="round" fill="none"/>

<rect x="1783" y="1789" width="362" height="369" rx="20" fill="#fff" stroke="#c8a482" stroke-width="6"/>
<rect x="1800" y="1782" width="130" height="14" fill="#fff"/>
<use href="#dots" x="1786" y="1800" width="95" height="90" style="color:#f2dcc6"/>
<rect x="1905" y="1813" width="22" height="9" rx="3" fill="#dcbfa3"/>
<use href="#cloud" transform="translate(1911,1773) scale(1.05,.95)"/>
<text class="h" x="1787" y="1807" font-size="44" fill="#000" textLength="94" lengthAdjust="spacingAndGlyphs">Tree</text>
<text class="f h" x="1915" y="1807" font-size="44" textLength="28" lengthAdjust="spacingAndGlyphs">3</text>
<g transform="translate(1963,1851) scale(.7)"><use href="#sun"/><circle cx="30" cy="28" r="15" fill="#fff"/></g>
<text class="v h" x="1984" y="1903" font-size="28" textLength="37" lengthAdjust="spacingAndGlyphs" style="stroke-width:3px">0.5</text>
<path class="c" stroke-width="8" d="M1932 1879H1953M2017 1879H2043M1913 1890V1913M2063 1890V1913"/>
<path class="c" stroke-width="8" d="M1878 1948H1870Q1862 1948 1862 1956V1982M1943 1948H1950Q1958 1948 1958 1956V1982M2029 1948H2021Q2013 1948 2013 1956V1982M2094 1948H2102Q2110 1948 2110 1956V1982M1830 2016H1821Q1813 2016 1813 2024V2049M1895 2016H1902Q1910 2016 1910 2024V2049"/>
<text class="l" x="1886" y="1885" font-size="20" textLength="43" lengthAdjust="spacingAndGlyphs">LESS</text>
<text class="l" x="2045" y="1885" font-size="20" textLength="52" lengthAdjust="spacingAndGlyphs">MORE</text>
<g transform="translate(1912,1937) scale(.85)"><use href="#temp"/></g>
<text x="1912" y="1944" font-size="17" font-weight="700" fill="#fff" text-anchor="middle">°F</text>
<text class="v h" x="1910" y="1968" font-size="29" textLength="50" lengthAdjust="spacingAndGlyphs" style="stroke-width:3px">66.5</text>
<g transform="translate(2063,1936) scale(.85)"><use href="#drop"/></g>
<text x="2063" y="1945" font-size="17" font-weight="700" fill="#fff" text-anchor="middle">%</text>
<text class="v h" x="2061" y="1968" font-size="29" textLength="50" lengthAdjust="spacingAndGlyphs" style="stroke-width:3px">78.5</text>
<g transform="translate(1862,2000)"><use href="#storm"/></g>
<text class="v h" x="1862" y="2036" font-size="28" textLength="37" lengthAdjust="spacingAndGlyphs" style="stroke-width:3px">0.5</text>
<rect x="1938" y="1983" width="44" height="43" rx="11" fill="#0aaeff"/>
<text class="w" x="1941" y="2013" font-size="25" textLength="36" lengthAdjust="spacingAndGlyphs">YES</text>
<text class="f h" x="1978" y="2021" font-size="30" style="fill:#0c78d2;stroke-width:5px" textLength="19" lengthAdjust="spacingAndGlyphs">5</text>
<rect x="1992" y="1982" width="42" height="43" rx="11" fill="#0aaeff"/>
<text class="w" x="1994" y="2012" font-size="25" textLength="36" lengthAdjust="spacingAndGlyphs">YES</text>
<text class="f h" x="2032" y="2020" font-size="30" style="fill:#0c78d2;stroke-width:5px" textLength="16" lengthAdjust="spacingAndGlyphs">1</text>
<rect x="2088" y="1982" width="44" height="43" rx="11" fill="#ff8c00"/>
<text class="w" x="2094" y="2012" font-size="25" textLength="32" lengthAdjust="spacingAndGlyphs">NO</text>
<text class="f h" x="2129" y="2020" font-size="30" style="fill:#e8500c;stroke-width:5px" textLength="18" lengthAdjust="spacingAndGlyphs">3</text>
<rect x="1793" y="2049" width="44" height="44" rx="11" fill="#ff8c00"/>
<text class="w" x="1799" y="2081" font-size="25" textLength="32" lengthAdjust="spacingAndGlyphs">NO</text>
<text class="f h" x="1834" y="2089" font-size="30" style="fill:#e8500c;stroke-width:5px" textLength="16" lengthAdjust="spacingAndGlyphs">1</text>
<rect x="1889" y="2051" width="44" height="43" rx="11" fill="#0aaeff"/>
<text class="w" x="1892" y="2082" font-size="25" textLength="36" lengthAdjust="spacingAndGlyphs">YES</text>
<text class="f h" x="1930" y="2091" font-size="30" style="fill:#0c78d2;stroke-width:5px" textLength="16" lengthAdjust="spacingAndGlyphs">1</text>

<rect class="p" x="1441" y="2277" width="154" height="233" rx="20"/>
<use href="#dots" x="1444" y="2281" width="70" height="75" style="color:#dde3ec"/>
<use href="#pred" x="1514" y="2289" width="63" height="72"/>
<rect class="b" x="1514" y="2375" width="63" height="30" rx="9"/><rect class="b" x="1514" y="2419" width="63" height="30" rx="9"/><rect class="b" x="1514" y="2462" width="63" height="30" rx="9"/>
<text class="n" x="1479" y="2398" textLength="40" lengthAdjust="spacingAndGlyphs">11</text><text class="n" x="1479" y="2441" textLength="40" lengthAdjust="spacingAndGlyphs">12</text><text class="n" x="1479" y="2484" textLength="40" lengthAdjust="spacingAndGlyphs">13</text>
<text class="h" x="1594" y="2353" font-size="28" fill="#14294f" textLength="90" lengthAdjust="spacingAndGlyphs" style="stroke-width:5px">SCORE</text>
<path d="M1633 2379L1647 2393 1633 2407" fill="none" stroke="#6488ae" stroke-width="7" stroke-linecap="round" stroke-linejoin="round"/>
<g transform="translate(1778,2394)"><use href="#badge"/><use href="#rings" y="-45"/></g>
<text x="1702" y="2358" font-size="38" font-weight="700" fill="#4f5f80" class="h" textLength="153" lengthAdjust="spacingAndGlyphs" style="stroke-width:3px">Accuracy</text>
<text x="1711" y="2446" font-size="80" font-weight="700" fill="#000" textLength="98" lengthAdjust="spacingAndGlyphs">66</text>
<text x="1829" y="2413" font-size="32" font-weight="700" fill="#d9534f" text-anchor="middle" textLength="28" lengthAdjust="spacingAndGlyphs">%</text>
<text x="1811" y="2451" font-size="38" fill="#000" stroke="#000" stroke-width="1" textLength="28" lengthAdjust="spacingAndGlyphs">.7</text>
</svg>
</body></html>
